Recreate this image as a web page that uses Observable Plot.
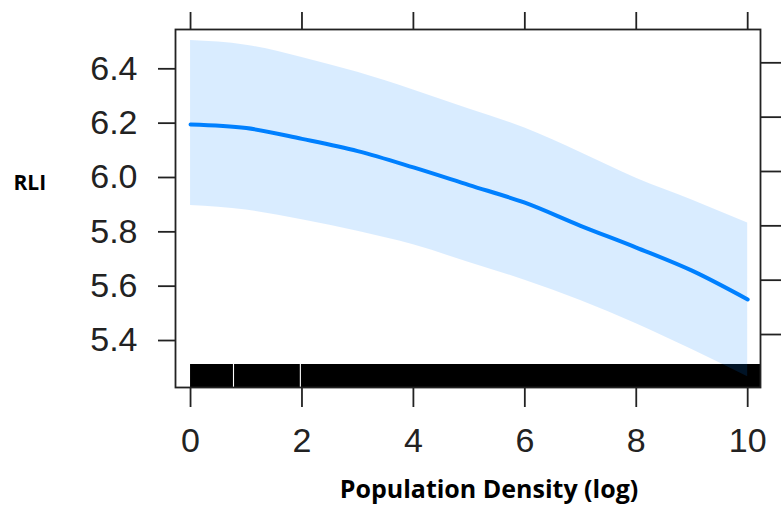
<!DOCTYPE html>
<html>
<head>
<meta charset="utf-8">
<script src="https://cdn.jsdelivr.net/npm/d3@7"></script>
<script src="https://cdn.jsdelivr.net/npm/@observablehq/plot@0.6"></script>
<style>
  html, body { margin: 0; padding: 0; background: #fff; }
</style>
</head>
<body>
<div id="chart"></div>
<script>
// Effect estimate of Population Density (log) on RLI
const density = [0, 1, 2, 3, 4, 5, 6, 7, 8, 9, 10];
const fit     = [6.173, 6.160, 6.120, 6.075, 6.015, 5.950, 5.885, 5.800, 5.720, 5.635, 5.529];
const upper   = [6.482, 6.465, 6.420, 6.365, 6.300, 6.230, 6.160, 6.070, 5.975, 5.895, 5.810];
const lower   = [5.875, 5.858, 5.822, 5.780, 5.730, 5.665, 5.600, 5.525, 5.440, 5.345, 5.245];

// Rug of observed values (solid with two thin gaps)
const rugStart = [0, 0.79, 1.99];
const rugEnd   = [0.77, 1.97, 10.4];

const xTicks = [0, 2, 4, 6, 8, 10];
const yTicks = [5.4, 5.6, 5.8, 6.0, 6.2, 6.4];

const xTitle = "Population Density (log)";
const yTitle = "RLI";

const curve = density.map((d, i) => ({x: d, fit: fit[i], lo: lower[i], hi: upper[i]}));
const rug = rugStart.map((s, i) => ({x1: s, x2: rugEnd[i]}));

const axisColor = "#222";
const noLabel = () => "";
const plot = Plot.plot({
  width: 781,
  height: 518,
  marginLeft: 175,
  marginRight: 21,
  marginTop: 29,
  marginBottom: 131,
  style: {fontFamily: "'Liberation Sans', Arial, sans-serif", background: "#fff", color: "#222"},
  x: {domain: [-0.27, 10.23]},
  y: {domain: [5.205, 6.5226]},
  marks: [
    Plot.rect(rug, {x1: "x1", x2: "x2", fill: "black", insetTop: 335, clip: true}),
    Plot.areaY(curve, {x: "x", y1: "lo", y2: "hi", fill: "#0080ff", fillOpacity: 0.15, curve: "monotone-x"}),
    Plot.line(curve, {x: "x", y: "fit", stroke: "#0080ff", strokeWidth: 4, curve: "monotone-x"}),
    Plot.frame({stroke: axisColor, strokeWidth: 1.8}),
    Plot.axisX({anchor: "bottom", ticks: xTicks, tickSize: 20, tickPadding: 20, fontSize: 34, strokeWidth: 1.8, stroke: axisColor, fill: "#222", label: null}),
    Plot.axisX({anchor: "top", ticks: xTicks, tickSize: 18, tickFormat: noLabel, strokeWidth: 1.8, stroke: axisColor, label: null}),
    Plot.axisY({anchor: "left", ticks: yTicks, tickSize: 17, tickPadding: 21, tickFormat: ".1f", fontSize: 34, dy: 6, strokeWidth: 1.8, stroke: axisColor, fill: "#222", label: null}),
    Plot.axisY({anchor: "right", ticks: yTicks, tickSize: 20, tickFormat: noLabel, strokeWidth: 1.8, stroke: axisColor, label: null}),
    Plot.text([yTitle], {frameAnchor: "left", dx: -162, dy: -25, textAnchor: "start", fontSize: 21, fontWeight: "bold", fontFamily: "'Open Sans', sans-serif", fill: "#000"}),
    Plot.text([xTitle], {frameAnchor: "bottom", dx: 21, dy: 110, fontSize: 25, fontWeight: "bold", fontFamily: "'Open Sans', sans-serif", fill: "#000"})
  ]
});
document.getElementById("chart").appendChild(plot);
</script>
</body>
</html>
